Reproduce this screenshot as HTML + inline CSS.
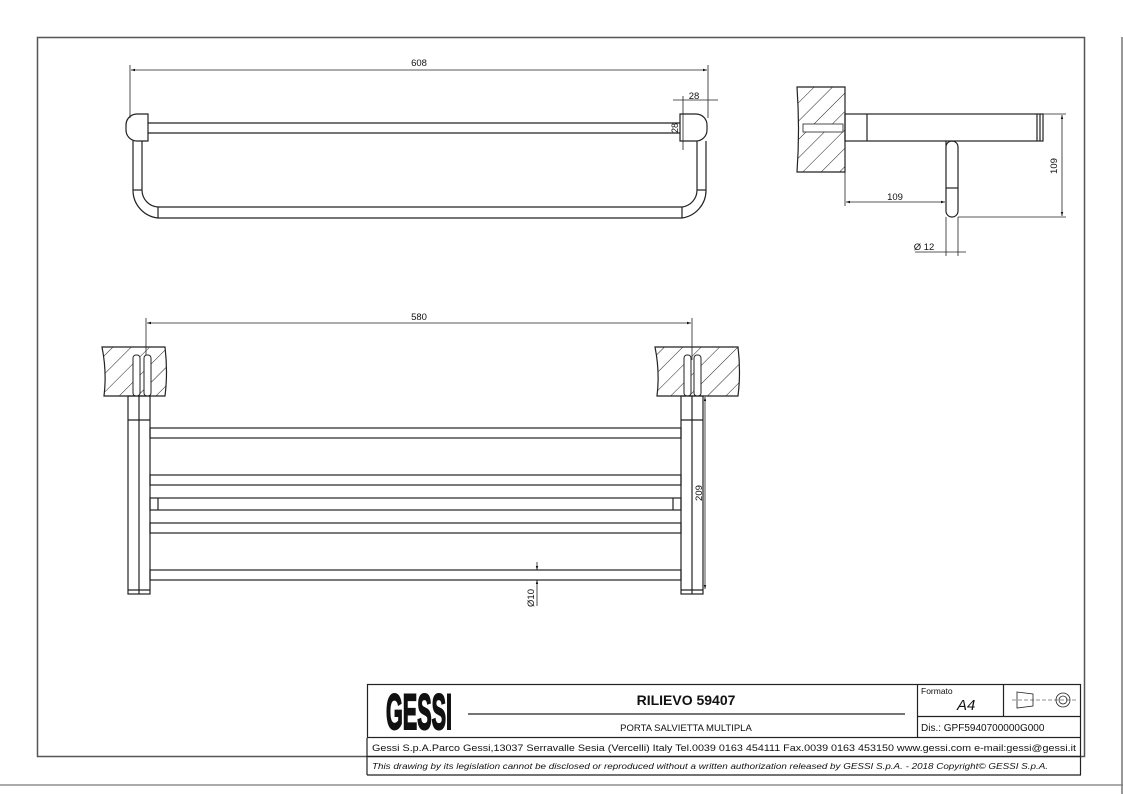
<!DOCTYPE html>
<html><head><meta charset="utf-8"><style>
html,body{margin:0;padding:0;background:#fff;width:1123px;height:794px;overflow:hidden}
svg{display:block}
text{font-family:"Liberation Sans",sans-serif;fill:#111}
</style></head><body>
<svg width="1123" height="794" viewBox="0 0 1123 794" xmlns="http://www.w3.org/2000/svg">
<defs>
<pattern id="h" patternUnits="userSpaceOnUse" width="13" height="13" patternTransform="rotate(45)">
<line x1="0" y1="0" x2="0" y2="13" stroke="#222" stroke-width="1"/>
</pattern>
<marker id="a" viewBox="0 0 10 10" refX="10" refY="5" markerWidth="8" markerHeight="5" orient="auto-start-reverse"><path d="M0,2 L10,5 L0,8z" fill="#111"/></marker>
</defs>
<g fill="none" stroke="#222" stroke-width="1.2">
<rect x="37.5" y="37.5" width="1047" height="719" stroke="#555" stroke-width="1.5"/>
<line x1="1122" y1="37" x2="1122" y2="794" stroke="#555"/>
<line x1="0" y1="785" x2="1123" y2="785" stroke="#777"/>

<line x1="130" y1="65" x2="130" y2="118" stroke-width="0.8"/>
<line x1="708" y1="65" x2="708" y2="118" stroke-width="0.8"/>
<line x1="131" y1="70" x2="707" y2="70" marker-start="url(#a)" marker-end="url(#a)" stroke-width="0.8"/>
<line x1="673" y1="100" x2="718" y2="100" stroke-width="0.8"/>
<line x1="683" y1="96" x2="683" y2="150" stroke-width="0.8"/>
<path d="M148,114 H137 A11,11 0 0 0 126,125 V130 A11,11 0 0 0 137,141 H148 Z"/>
<path d="M680,114 H696 A11,11 0 0 1 707,125 V130 A11,11 0 0 1 696,141 H680 Z"/>
<line x1="148" y1="123" x2="680" y2="123"/>
<line x1="148" y1="133" x2="680" y2="133"/>
<path d="M133,141 V190 A28,28 0 0 0 158,218 H682 A28,28 0 0 0 706,190 V141"/>
<path d="M142,141 V190 A17,17 0 0 0 158,207 H682 A17,17 0 0 0 697,190 V141"/>
<line x1="133" y1="190" x2="142" y2="190"/>
<line x1="697" y1="190" x2="706" y2="190"/>
<line x1="158" y1="207" x2="158" y2="218"/>
<line x1="682" y1="207" x2="682" y2="218"/>

<path d="M797,87 L845,87 V172 L797,172 Q800,130 797,87Z" fill="url(#h)"/>
<rect x="803" y="124" width="40" height="8" fill="#fff" stroke-width="0.8"/>
<rect x="845" y="114" width="198" height="27"/>
<line x1="867" y1="114" x2="867" y2="141"/>
<line x1="1037" y1="114" x2="1037" y2="141"/>
<line x1="1040" y1="114" x2="1040" y2="141"/>
<path d="M946,141 V147 A6,6 0 0 1 958,147 V211 A6,6 0 0 1 946,211 Z"/>
<line x1="946" y1="188" x2="958" y2="188"/>
<line x1="845" y1="141" x2="845" y2="206" stroke-width="0.8"/>
<line x1="846" y1="202" x2="945" y2="202" marker-start="url(#a)" marker-end="url(#a)" stroke-width="0.8"/>
<line x1="1043" y1="114" x2="1066" y2="114" stroke-width="0.8"/>
<line x1="958" y1="217" x2="1066" y2="217" stroke-width="0.8"/>
<line x1="1062" y1="115" x2="1062" y2="216" marker-start="url(#a)" marker-end="url(#a)" stroke-width="0.8"/>
<line x1="946" y1="217" x2="946" y2="256" stroke-width="0.8"/>
<line x1="958" y1="217" x2="958" y2="256" stroke-width="0.8"/>
<line x1="915" y1="252" x2="966" y2="252" stroke-width="0.8"/>

<line x1="146" y1="318" x2="146" y2="360" stroke-width="0.8"/>
<line x1="692" y1="318" x2="692" y2="360" stroke-width="0.8"/>
<line x1="147" y1="323" x2="691" y2="323" marker-start="url(#a)" marker-end="url(#a)" stroke-width="0.8"/>
<path d="M102,347 H165 Q168,372 165,396 H104 Q107,372 102,347Z" fill="url(#h)"/>
<path d="M655,347 H738 Q741,372 738,396 H657 Q660,372 655,347Z" fill="url(#h)"/>
<g stroke-width="1">
<rect x="133" y="355" width="7" height="41" rx="3" fill="#fff"/>
<rect x="144" y="355" width="7" height="41" rx="3" fill="#fff"/>
<rect x="684" y="355" width="7" height="41" rx="3" fill="#fff"/>
<rect x="694" y="355" width="7" height="41" rx="3" fill="#fff"/>
</g>
<rect x="128" y="396" width="22" height="198"/>
<line x1="139" y1="396" x2="139" y2="594"/>
<line x1="128" y1="420" x2="150" y2="420"/>
<line x1="128" y1="590" x2="150" y2="590"/>
<rect x="681" y="396" width="22" height="198"/>
<line x1="692" y1="396" x2="692" y2="594"/>
<line x1="681" y1="420" x2="703" y2="420"/>
<line x1="681" y1="590" x2="703" y2="590"/>
<rect x="150" y="428" width="531" height="10"/>
<rect x="150" y="475" width="531" height="10"/>
<rect x="150" y="498" width="531" height="12"/>
<line x1="158" y1="498" x2="158" y2="510"/>
<line x1="673" y1="498" x2="673" y2="510"/>
<rect x="150" y="523" width="531" height="10"/>
<rect x="150" y="570" width="531" height="10"/>
<line x1="705" y1="397" x2="705" y2="589" marker-start="url(#a)" marker-end="url(#a)" stroke-width="0.8"/>
<line x1="537" y1="562" x2="537" y2="570" marker-end="url(#a)" stroke-width="0.8"/>
<line x1="537" y1="580" x2="537" y2="606" marker-start="url(#a)" stroke-width="0.8"/>

<rect x="367.5" y="684.5" width="713" height="53"/>
<line x1="367" y1="738" x2="367" y2="775"/>
<line x1="1080.5" y1="738" x2="1080.5" y2="775"/>
<line x1="367" y1="756.5" x2="1081" y2="756.5"/>
<line x1="367" y1="775" x2="1081" y2="775"/>
<line x1="917.5" y1="684" x2="917.5" y2="738"/>
<line x1="1003.5" y1="684" x2="1003.5" y2="716"/>
<line x1="917" y1="716.5" x2="1081" y2="716.5"/>
<line x1="468" y1="714" x2="905" y2="714"/>
<path d="M1017,692 L1033,694 V706 L1017,708Z" stroke-width="0.8"/>
<line x1="1012" y1="700" x2="1078" y2="700" stroke-width="0.6" stroke-dasharray="4,2"/>
<circle cx="1063" cy="700" r="7" stroke-width="0.8"/>
<circle cx="1063" cy="700" r="4" stroke-width="0.8"/>
</g>

<g font-size="9.5" text-anchor="middle">
<text x="419" y="66">608</text>
<text x="694" y="99">28</text>
<text x="678" y="128" transform="rotate(-90 678 128)" text-anchor="middle" font-size="9">28</text>
<text x="895" y="200">109</text>
<text x="1057" y="166" transform="rotate(-90 1057 166)">109</text>
<text x="924" y="250">Ø 12</text>
<text x="419" y="320">580</text>
<text x="702" y="493" transform="rotate(-90 702 493)">209</text>
<text x="534" y="598" transform="rotate(-90 534 598)">Ø10</text>
</g>

<text x="386" y="729" font-size="50" font-weight="bold" stroke="#111" stroke-width="2" textLength="66" lengthAdjust="spacingAndGlyphs">GESSI</text>
<text x="686" y="705" font-size="14" font-weight="bold" text-anchor="middle">RILIEVO 59407</text>
<text x="686" y="731" font-size="9.5" text-anchor="middle">PORTA SALVIETTA MULTIPLA</text>
<text x="921" y="694" font-size="8.5">Formato</text>
<text x="957" y="710" font-size="15" font-style="italic">A4</text>
<text x="921" y="731" font-size="10">Dis.: GPF5940700000G000</text>
<text x="724" y="751" font-size="9.5" text-anchor="middle" textLength="704" lengthAdjust="spacingAndGlyphs">Gessi S.p.A.Parco Gessi,13037 Serravalle Sesia (Vercelli) Italy Tel.0039 0163 454111 Fax.0039 0163 453150 www.gessi.com e-mail:gessi@gessi.it</text>
<text x="710" y="769" font-size="8" font-style="italic" text-anchor="middle" textLength="676" lengthAdjust="spacingAndGlyphs">This drawing by its legislation cannot be disclosed or reproduced without a written authorization released by GESSI S.p.A. - 2018 Copyright© GESSI S.p.A.</text>
</svg>
</body></html>
